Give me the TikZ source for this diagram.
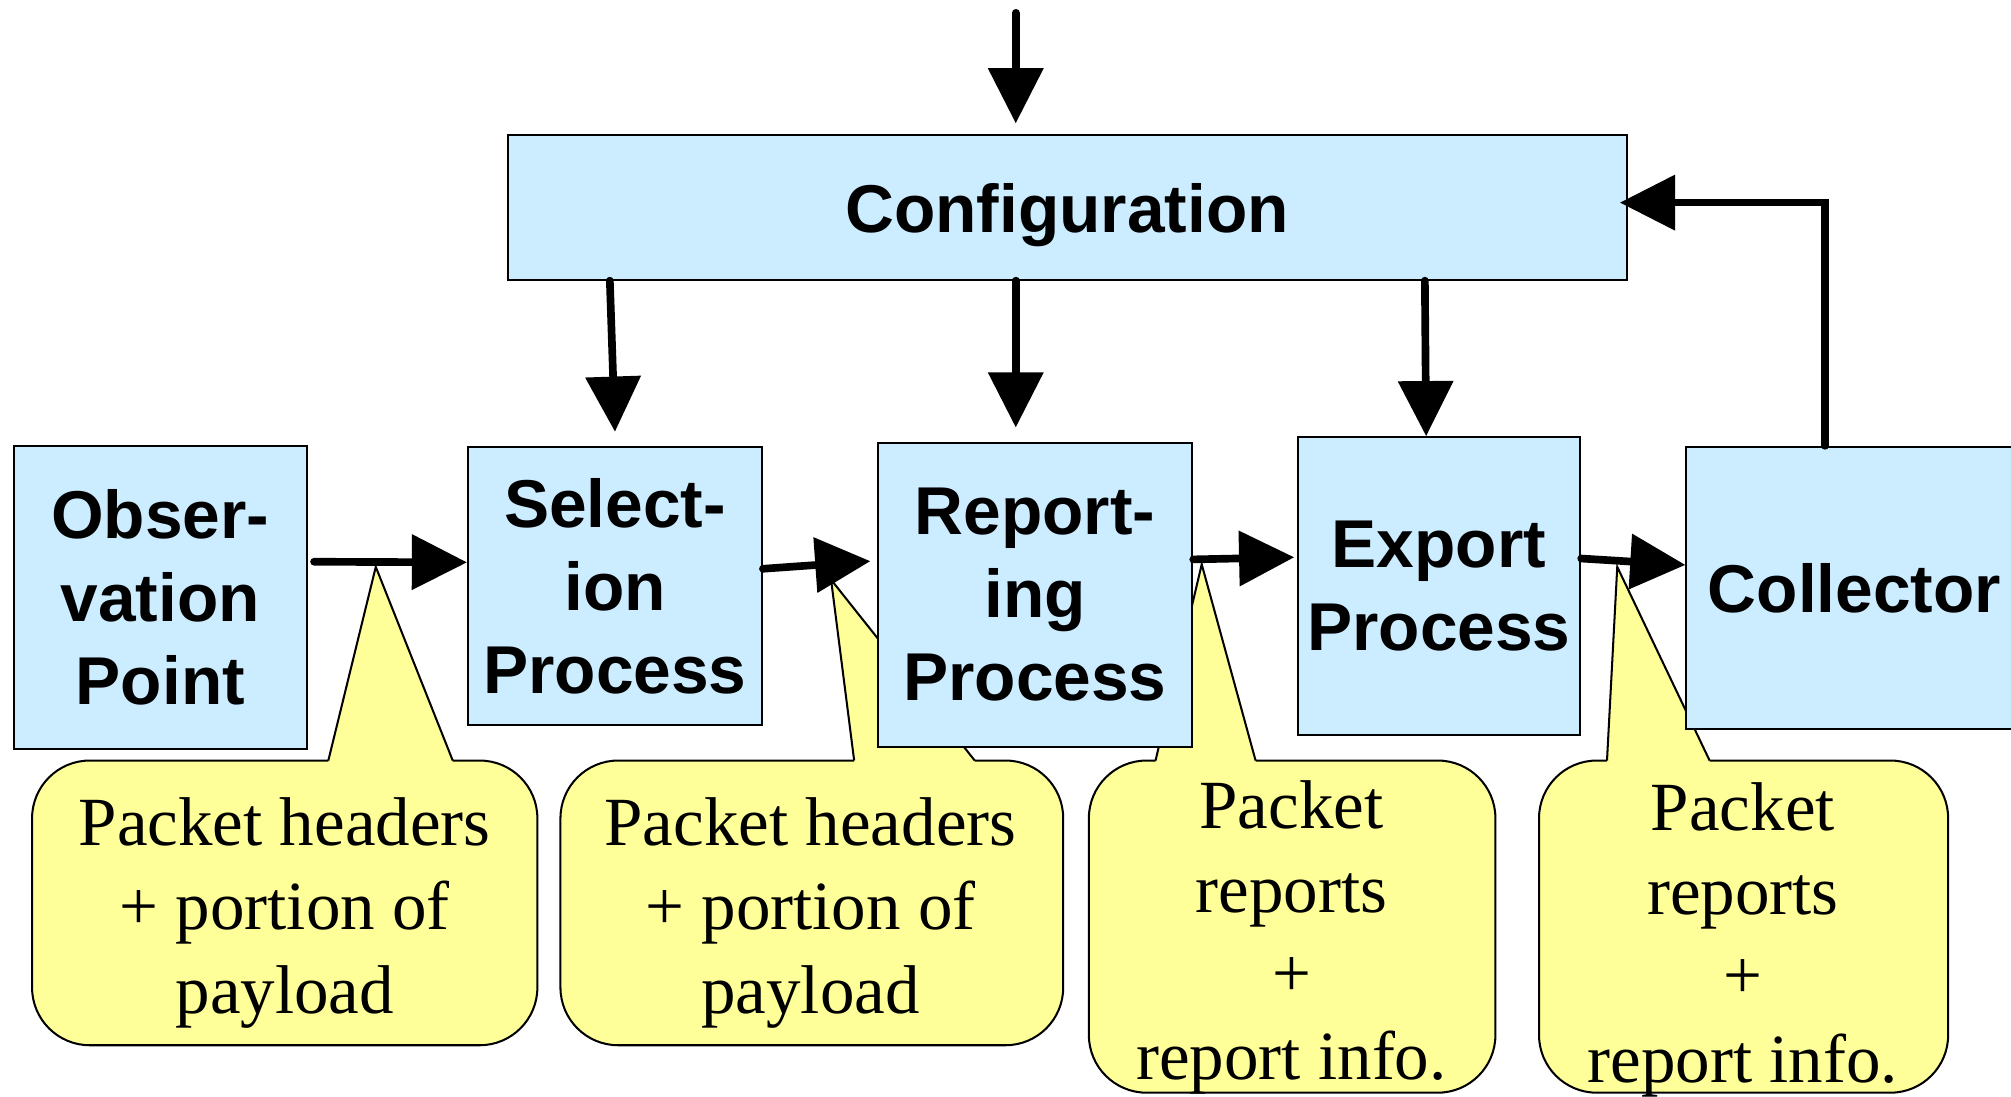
\documentclass[tikz,border=0pt]{standalone}
\usepackage{fontspec}
\setmainfont{Liberation Serif}
\setsansfont{Liberation Sans}
\usetikzlibrary{arrows.meta,positioning,calc}
\definecolor{boxblue}{RGB}{204,236,255}
\definecolor{noteyellow}{RGB}{255,255,153}

\begin{document}
\begin{tikzpicture}[
x=0.01cm, y=-0.01cm,
procbox/.style={draw=black, line width=0.45pt, fill=boxblue, inner sep=0pt, align=center, font=\sffamily\bfseries\fontsize{15}{18.4}\selectfont},
note/.style={draw=black, line width=0.45pt, fill=noteyellow, rounded corners=0.45cm},
notelink/.style={draw=black, line width=0.45pt, line join=miter},
notetext/.style={align=center, inner sep=0pt, font=\fontsize{15.3}{18.6}\selectfont},
flow/.style={line width=1.7pt, line cap=round, -{Triangle[length=0.43cm, width=0.42cm]}},
]
\clip (0,0) rectangle (1568,855);
\fill[white] (0,0) rectangle (1568,855);

% callouts under the boxes
\foreach \l/\r/\b/\pa/\ax/\ay/\pb in {25/419/815/256/293/442/353, 437/829/815/666/648/452/760, 849/1166/852/901/937/440/979, 1200/1519/852/1253/1261/442/1333} {
  \draw[note] (\l,593) rectangle (\r,\b);
  \fill[noteyellow] (\pa,597) -- (\pa,593) -- (\ax,\ay) -- (\pb,593) -- (\pb,597) -- cycle;
  \draw[notelink] (\pa,593) -- (\ax,\ay) -- (\pb,593);
}
\node[notetext] (n1) at (222,712) {Packet headers\\+ portion of\\payload};
\node[notetext] (n2) at (632,712) {Packet headers\\+ portion of\\payload};
\node[notetext] (n3) at (1007,731) {Packet\\reports\\+\\report info.};
\node[notetext] (n4) at (1359,733) {Packet\\reports\\+\\report info.};

% boxes
\node[procbox, minimum width=8.72cm, minimum height=1.13cm, text height=0.4cm, text depth=0pt] (conf) at (832,161.5) {Configuration};
\node[procbox, minimum width=2.28cm, minimum height=2.36cm] (obs) at (125,466) {Obser-\\vation\\Point};
\node[procbox, minimum width=2.29cm, minimum height=2.17cm] (sel) at (479.5,457) {Select-\\ion\\Process};
\node[procbox, minimum width=2.45cm, minimum height=2.37cm] (rep) at (807,463.7) {Report-\\ing\\Process};
\node[procbox, minimum width=2.20cm, minimum height=2.32cm] (exp) at (1122,457) {Export\\Process};
\node[procbox, minimum width=2.62cm, minimum height=2.20cm] (col) at (1446,458.5) {Collector};

% arrows
\coordinate (cfgin) at (792,10);
\draw[flow, shorten >=0.08cm] (cfgin) -- (cfgin |- conf.north);
\draw[flow] ([xshift=-0.04cm]conf.south -| sel.north) -- ([yshift=0.11cm]sel.north);
\draw[flow, shorten >=0.11cm] (cfgin |- conf.south) -- (cfgin |- rep.north);
\draw[flow] ([xshift=-0.11cm]conf.south -| exp.north) -- ([xshift=-0.1cm]exp.north);
\draw[flow, shorten >=-0.06cm] ([xshift=-0.23cm]col.north) |- ([yshift=0.035cm]conf.east);

\draw[flow, shorten <=0.05cm] ([yshift=0.28cm]obs.east) -- ([yshift=0.185cm]sel.west);
\draw[flow, shorten >=0.05cm] ([yshift=0.135cm]sel.east) -- ([yshift=0.265cm]rep.west);
\draw[flow, shorten >=0.02cm] ([yshift=0.275cm]rep.east) -- ([yshift=0.225cm]exp.west);
\draw[flow] ([yshift=0.215cm]exp.east) -- ([yshift=0.18cm]col.west);
\end{tikzpicture}
\end{document}
